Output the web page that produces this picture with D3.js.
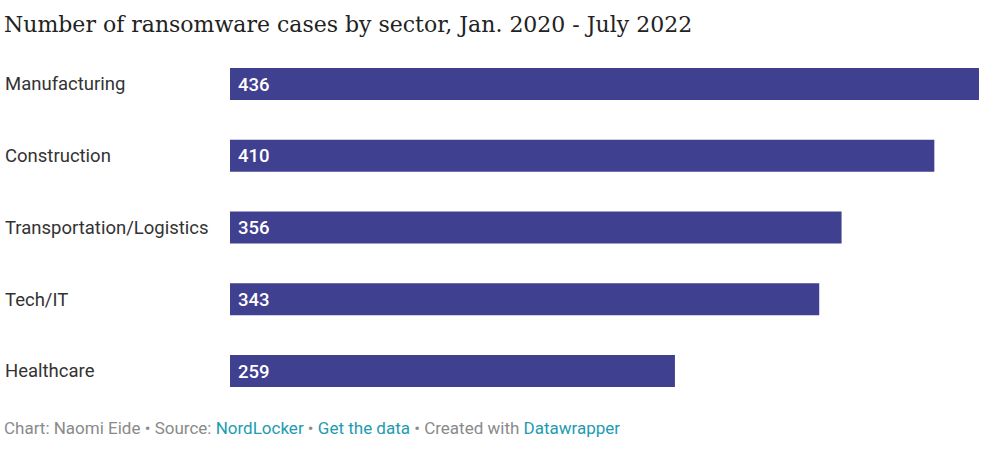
<!DOCTYPE html>
<html><head><meta charset="utf-8">
<script src="https://cdn.jsdelivr.net/npm/d3@7"></script>
<style>body{margin:0;background:#fff}</style>
</head><body><div id="chart"></div>
<script>
// data
const sectors = ["Manufacturing", "Construction", "Transportation/Logistics", "Tech/IT", "Healthcare"];
const cases = [436, 410, 356, 343, 259];

const width = 1000, height = 459;
const svg = d3.select("#chart").append("svg")
  .attr("width", width).attr("height", height);

svg.append("text")
  .attr("x", 4).attr("y", 32)
  .attr("font-family", "'DejaVu Serif', serif")
  .attr("font-size", 22).attr("fill", "#222")
  .text("Number of ransomware cases by sector, Jan. 2020 - July 2022");

const x = d3.scaleLinear().domain([0, 436]).range([230, 979]);
const y = d3.scaleBand().domain(sectors).range([68, 387]).paddingInner(0.554).paddingOuter(0);

const rows = svg.selectAll(".row").data(sectors).enter().append("g").attr("class", "row");

rows.append("rect")
  .attr("x", x(0))
  .attr("y", d => y(d))
  .attr("width", (d, i) => x(cases[i]) - x(0))
  .attr("height", y.bandwidth())
  .attr("fill", "#404090");

rows.append("text")
  .attr("x", 5)
  .attr("y", d => y(d) + y.bandwidth() / 2)
  .attr("dy", "0.35em")
  .attr("font-family", "Roboto, sans-serif").attr("font-size", 18.5).attr("fill", "#333")
  .text(d => d);

rows.append("text")
  .attr("x", x(0) + 8)
  .attr("y", d => y(d) + y.bandwidth() / 2)
  .attr("dy", "0.36em")
  .attr("font-family", "Roboto, sans-serif").attr("font-size", 18.5).attr("font-weight", 500)
  .attr("fill", "#fff")
  .text((d, i) => cases[i]);

// footer
const foot = svg.append("text")
  .attr("x", 4).attr("y", 434)
  .attr("font-family", "Roboto, sans-serif").attr("font-size", 17).attr("fill", "#8a8a8a");
const parts = [
  ["Chart: Naomi Eide • Source: ", "#8a8a8a"], ["NordLocker", "#1d9bb0"], [" • ", "#8a8a8a"],
  ["Get the data", "#1d9bb0"], [" • Created with ", "#8a8a8a"], ["Datawrapper", "#1d9bb0"]
];
parts.forEach(p => foot.append("tspan").attr("fill", p[1]).text(p[0]));
</script></body></html>
